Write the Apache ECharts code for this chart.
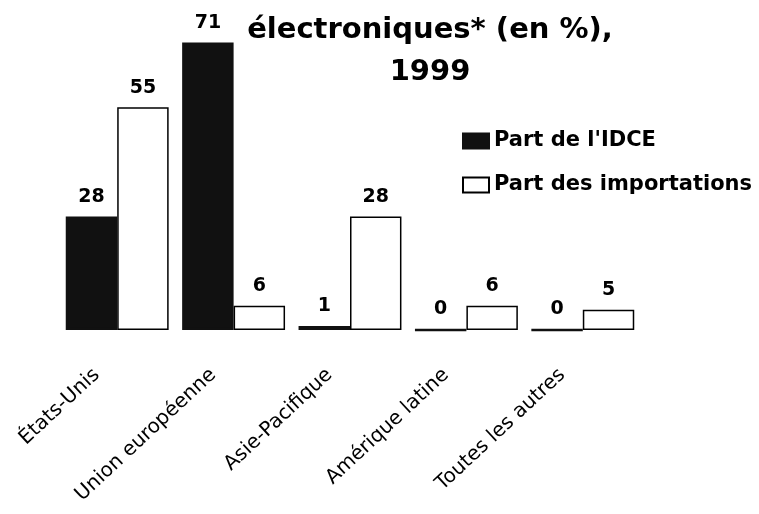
<!DOCTYPE html>
<html>
<head>
<meta charset="utf-8">
<script src="https://cdn.jsdelivr.net/npm/echarts@6/dist/echarts.min.js"></script>
<style>
  html, body { margin: 0; padding: 0; background: #fff; }
  #chart { width: 759px; height: 514px; }
</style>
</head>
<body>
<div id="chart"></div>
<script>
// Regions and their shares (%), 1999
const categories = ['États-Unis', 'Union européenne', 'Asie-Pacifique', 'Amérique latine', 'Toutes les autres'];
const idceShare = [28, 71, 1, 0, 0];
const importShare = [55, 6, 28, 6, 5];
const seriesNames = ["Part de l'IDCE", 'Part des importations'];
const titleLines = ['électroniques* (en %),', '1999'];

const FONT = '"DejaVu Sans", Verdana, sans-serif';

const chart = echarts.init(document.getElementById('chart'), null, { renderer: 'canvas' });

const valueLabel = {
  show: true,
  position: 'top',
  distance: 10,
  color: '#000',
  fontFamily: FONT,
  fontWeight: 'bold',
  fontSize: 19
};

chart.setOption({
  animation: false,
  backgroundColor: '#fff',
  graphic: [{
    type: 'text',
    x: 430,
    y: 9,
    style: {
      text: titleLines.join('\n'),
      font: 'bold 29px ' + FONT,
      fill: '#000',
      align: 'center',
      verticalAlign: 'top',
      lineHeight: 42
    }
  }],
  legend: {
    orient: 'vertical',
    left: 462,
    top: 130,
    padding: 0,
    icon: 'rect',
    itemWidth: 26,
    itemHeight: 15,
    itemGap: 22,
    textStyle: {
      color: '#000',
      fontFamily: FONT,
      fontWeight: 'bold',
      fontSize: 21,
      lineHeight: 22
    },
    data: seriesNames
  },
  grid: { left: 59, right: 118, top: 6, bottom: 184 },
  xAxis: {
    type: 'category',
    data: categories,
    axisLine: { show: false },
    axisTick: { show: false },
    axisLabel: {
      interval: 0,
      rotate: 43,
      margin: 23,
      padding: [0, 28, 0, 0],
      color: '#000',
      fontFamily: FONT,
      fontSize: 20
    }
  },
  yAxis: {
    type: 'value',
    min: 0,
    max: 80,
    show: false,
    splitLine: { show: false }
  },
  series: [
    {
      name: seriesNames[0],
      type: 'bar',
      data: idceShare,
      barGap: '0%',
      barCategoryGap: '11.6%',
      itemStyle: { color: '#111', borderColor: '#111', borderWidth: 2.5 },
      label: valueLabel
    },
    {
      name: seriesNames[1],
      type: 'bar',
      data: importShare,
      itemStyle: { color: '#fff', borderColor: '#000', borderWidth: 1.5 },
      label: valueLabel
    }
  ]
});
</script>
</body>
</html>
